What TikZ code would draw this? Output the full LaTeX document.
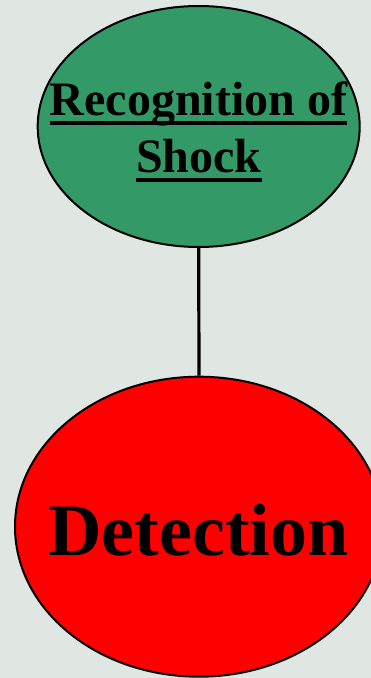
\documentclass[tikz,border=0pt]{standalone}
\usepackage{fontspec}
\setmainfont{Liberation Serif}
\usetikzlibrary{shapes.geometric}
\definecolor{bgcol}{HTML}{E0E6E2}
\definecolor{greencol}{HTML}{339966}
\definecolor{redcol}{HTML}{FF0000}
\newcommand\myul[1]{\setbox0\hbox{#1}\rlap{\rule[-9.7pt]{\wd0}{3.6pt}}\box0}
\tikzset{
  bubble/.style={ellipse, draw=black, line width=2pt, inner sep=0pt},
  conn/.style={draw=black, line width=3.2pt},
  lbl/.style={anchor=base, inner sep=0pt, font=\bfseries}
}
\begin{document}
\begin{tikzpicture}[x=1pt,y=-1pt]
\fill[bgcol] (0,0) rectangle (371,678);
\useasboundingbox (0,0) rectangle (371,678);
\node[bubble, fill=greencol, minimum width=322pt, minimum height=241pt] (rec) at (198.7,126.5) {};
\node[bubble, fill=redcol, minimum width=368pt, minimum height=300pt] (det) at (199,526.7) {};
\draw[conn] (rec.south) -- (det.north);
\node[lbl, font=\fontsize{48}{50}\selectfont\bfseries] (t1) at (198.5,115) {\myul{Recognition of}};
\node[lbl, font=\fontsize{48}{50}\selectfont\bfseries] (t2) at (199,172) {\myul{Shock}};
\node[lbl, font=\fontsize{74}{76}\selectfont\bfseries] (t3) at (198.5,555) {Detection};
\end{tikzpicture}
\end{document}
